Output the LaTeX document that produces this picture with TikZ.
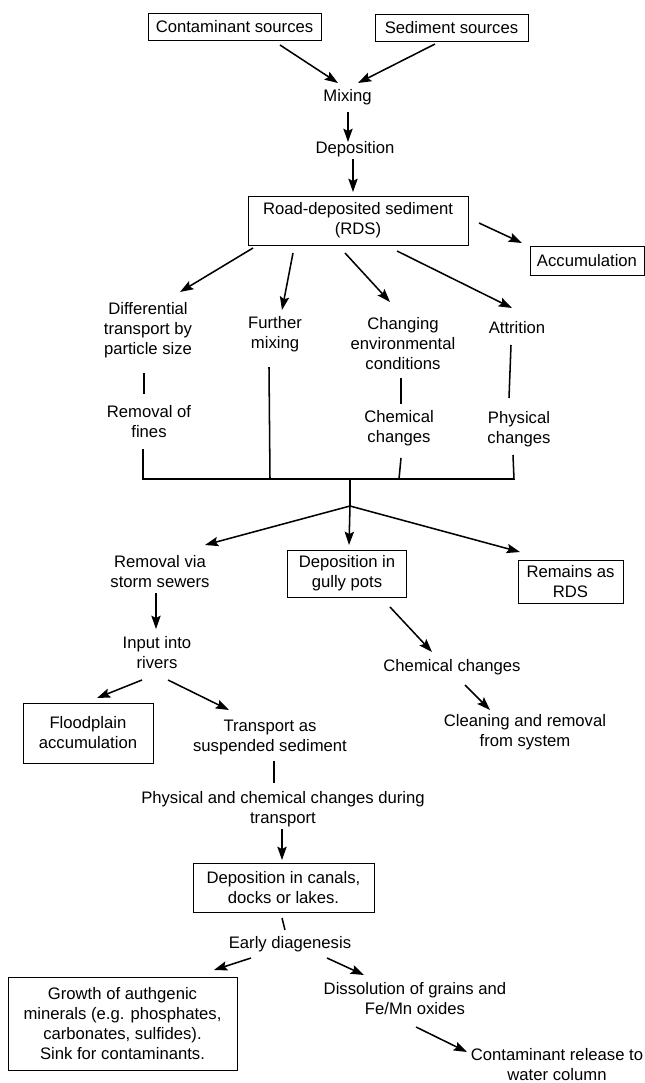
\documentclass[tikz,border=0pt]{standalone}
\usepackage{fontspec}
\setmainfont{Liberation Sans}
\usetikzlibrary{arrows.meta}
\tikzset{
  lbl/.style={font=\fontsize{12.5}{15}\selectfont, align=center, inner sep=0pt},
  bx/.style 2 args={lbl, draw, line width=0.6pt, minimum width=#1*0.75pt, minimum height=#2*0.75pt},
  arr/.style={line width=1.15pt, -{Stealth[length=10pt,width=7pt,inset=1.8pt]}},
  ln/.style={line width=1.15pt}
}
\begin{document}
\begin{tikzpicture}[x=0.75pt,y=-0.75pt]
\fill[white] (0,0) rectangle (645,1083);
\useasboundingbox (0,0) rectangle (645,1083);
% nodes
\node[bx={173}{27}] (csrc) at (234.5,26.5) {Contaminant sources};
\node[bx={153}{27}] (ssrc) at (451.5,27.5) {Sediment sources};
\node[lbl] (mix) at (347.5,97) {Mixing};
\node[lbl] (depo) at (355,149) {Deposition};
\node[bx={220}{49}] (rds) at (358,220.5) {Road-deposited sediment\\(RDS)};
\node[bx={114}{29}] (accum) at (587,260.5) {Accumulation};
\node[lbl] (diff) at (148,330) {Differential\\transport by\\particle size};
\node[lbl] (further) at (275,334) {Further\\mixing};
\node[lbl] (changing) at (403,343.5) {Changing\\environmental\\conditions};
\node[lbl] (attr) at (517,328) {Attrition};
\node[lbl] (fines) at (149,422) {Removal of\\fines};
\node[lbl] (chemA) at (399,428.5) {Chemical\\changes};
\node[lbl] (physA) at (519,429) {Physical\\changes};
\node[lbl] (removal) at (160,572) {Removal via\\storm sewers};
\node[bx={119}{47}] (gully) at (347,573.5) {Deposition in\\gully pots};
\node[bx={105}{43}] (remains) at (570.5,581.5) {Remains as\\RDS};
\node[lbl] (input) at (157,652.5) {Input into\\rivers};
\node[lbl] (chemB) at (452,667) {Chemical changes};
\node[lbl] (clean) at (525,732) {Cleaning and removal\\from system};
\node[bx={130}{60}] (flood) at (88,733) {Floodplain\\accumulation};
\node[lbl] (transport) at (270,737) {Transport as\\suspended sediment};
\node[lbl] (physchem) at (283,809) {Physical and chemical changes during\\transport};
\node[bx={181}{49}] (canals) at (283.5,887.5) {Deposition in canals,\\docks or lakes.};
\node[lbl] (early) at (290,944) {Early diagenesis};
\node[bx={229}{93}] (growth) at (122.5,1023.5) {Growth of authgenic\\minerals (e.g. phosphates,\\carbonates, sulfides).\\Sink for contaminants.};
\node[lbl] (dissol) at (415,999) {Dissolution of grains and\\Fe/Mn oxides};
\node[lbl] (release) at (557,1065) {Contaminant release to\\water column};
% junction coordinates
\coordinate (bl) at (143,479);
\coordinate (b2) at (270,479);
\coordinate (b3) at (399,479);
\coordinate (br) at (514,479);
\coordinate (bm) at (350,479);
\coordinate (bj) at (350,506);
% connectors
\draw[arr] ([shift={(45.5,18.5)}]csrc.center) -- ([shift={(-9.5,-14)}]mix.center);
\draw[arr] ([shift={(-16.5,16.5)}]ssrc.center) -- ([shift={(10.5,-14)}]mix.center);
\draw[arr] ([shift={(0.5,15)}]mix.center) -- ([shift={(-7,-7)}]depo.center);
\draw[arr] ([shift={(-2,10)}]depo.center) -- ([shift={(-5,-28.5)}]rds.center);
\draw[arr] ([shift={(121,2.5)}]rds.center) -- ([shift={(-65,-17.5)}]accum.center);
\draw[arr] ([shift={(-105,27.5)}]rds.center) -- ([shift={(32,-38)}]diff.center);
\draw[arr] ([shift={(-65,32.5)}]rds.center) -- ([shift={(7,-24)}]further.center);
\draw[arr] ([shift={(-13,32.5)}]rds.center) -- ([shift={(-13,-41.5)}]changing.center);
\draw[arr] ([shift={(39,30.5)}]rds.center) -- ([shift={(-5,-20)}]attr.center);
\draw[ln] ([shift={(-4,43)}]diff.center) -- ([shift={(-5,-28)}]fines.center);
\draw[ln] ([shift={(-2,34.5)}]changing.center) -- ([shift={(2,-24.5)}]chemA.center);
\draw[ln] ([shift={(-6,17)}]attr.center) -- ([shift={(-10,-31)}]physA.center);
\draw[ln] ([shift={(-6,27)}]fines.center) -- (bl) -- (br) -- ([shift={(-6,26)}]physA.center);
\draw[ln] ([shift={(-6,33)}]further.center) -- (b2);
\draw[ln] ([shift={(2,29.5)}]chemA.center) -- (b3);
\draw[ln] (bm) -- (bj);
\draw[arr] (bj) -- ([shift={(45,-27)}]removal.center);
\draw[arr] (bj) -- ([shift={(2,-28.5)}]gully.center);
\draw[arr] (bj) -- ([shift={(-50.5,-29.5)}]remains.center);
\draw[arr] ([shift={(-4,21)}]removal.center) -- ([shift={(-1,-23.5)}]input.center);
\draw[arr] ([shift={(-15,27.5)}]input.center) -- ([shift={(9,-35)}]flood.center);
\draw[arr] ([shift={(11,27.5)}]input.center) -- ([shift={(-41,-27)}]transport.center);
\draw[arr] ([shift={(43,33.5)}]gully.center) -- ([shift={(-20,-15)}]chemB.center);
\draw[arr] ([shift={(13,18)}]chemB.center) -- ([shift={(-35,-22)}]clean.center);
\draw[ln] ([shift={(4,24)}]transport.center) -- ([shift={(-9,-26)}]physchem.center);
\draw[arr] ([shift={(-1,20)}]physchem.center) -- ([shift={(-1.5,-27.5)}]canals.center);
\draw[ln] ([shift={(-1.5,30.5)}]canals.center) -- ([shift={(-5,-14)}]early.center);
\draw[arr] ([shift={(-39,14)}]early.center) -- ([shift={(91.5,-53.5)}]growth.center);
\draw[arr] ([shift={(37,14)}]early.center) -- ([shift={(-51,-24)}]dissol.center);
\draw[arr] ([shift={(1,28)}]dissol.center) -- ([shift={(-90,-13)}]release.center);
\end{tikzpicture}
\end{document}
